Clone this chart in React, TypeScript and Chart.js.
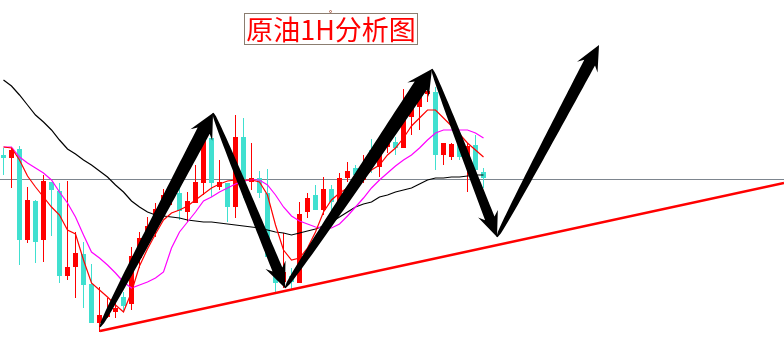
import React, { useEffect, useRef } from "react";
import { Chart, registerables } from "chart.js";

Chart.register(...registerables);

// Hourly crude oil bars (price in USD)
const barOpen = [
  53.82, 53.79, 53.88, 52.97, 53.36, 52.97, 53.55, 53.46, 52.61, 52.70,
  52.83, 52.53, 52.14, 52.20, 52.25, 52.40, 52.33, 52.79, 52.98, 53.11,
  53.27, 53.39, 53.44, 53.25, 53.34, 53.54, 53.99, 53.50, 53.54, 53.30,
  54.00, 53.55, 53.59, 53.44, 52.71, 52.55, 52.61, 52.54, 53.25, 53.42,
  53.27, 53.48, 53.35, 53.59, 53.69, 53.57, 53.87, 53.70, 53.90, 53.95,
  53.89, 54.20, 54.30, 54.43, 54.45, 53.82, 53.80, 53.92, 53.77, 53.92,
  53.65,
];
const barClose = [
  53.79, 53.87, 52.97, 53.37, 52.95, 53.56, 53.47, 52.61, 52.70, 52.84,
  52.52, 52.14, 52.22, 52.25, 52.29, 52.31, 52.81, 52.99, 53.11, 53.28,
  53.42, 53.47, 53.26, 53.36, 53.55, 54.00, 53.54, 53.55, 53.30, 54.00,
  53.55, 53.59, 53.44, 52.80, 52.54, 52.65, 52.55, 53.23, 53.39, 53.27,
  53.48, 53.35, 53.59, 53.66, 53.62, 53.73, 53.77, 53.97, 53.97, 53.89,
  54.20, 54.29, 54.42, 54.46, 53.82, 53.94, 53.93, 53.80, 53.91, 53.67,
  53.59,
];
const barHigh = [
  53.89, 53.89, 53.91, 53.50, 53.37, 53.62, 53.55, 53.54, 53.56, 53.05,
  52.95, 52.73, 52.50, 52.39, 52.38, 52.45, 52.90, 53.05, 53.20, 53.34,
  53.48, 53.54, 53.51, 53.45, 53.72, 54.00, 53.99, 53.77, 53.54, 54.22,
  54.19, 53.94, 53.66, 53.68, 52.80, 53.04, 52.69, 53.35, 53.44, 53.52,
  53.60, 53.52, 53.64, 53.75, 53.72, 53.82, 53.98, 54.00, 54.05, 54.00,
  54.48, 54.37, 54.49, 54.64, 54.50, 53.94, 53.94, 54.02, 53.94, 54.02,
  53.69,
];
const barLow = [
  53.62, 53.49, 52.72, 52.94, 52.74, 52.75, 53.01, 52.54, 52.57, 52.39,
  52.29, 52.14, 52.05, 52.19, 52.19, 52.25, 52.27, 52.69, 52.98, 53.00,
  53.24, 53.32, 53.17, 53.15, 53.34, 53.42, 53.40, 53.47, 53.15, 53.19,
  53.39, 53.47, 53.39, 52.80, 52.45, 52.49, 52.47, 52.54, 53.19, 53.27,
  53.22, 53.22, 53.34, 53.55, 53.59, 53.54, 53.64, 53.60, 53.84, 53.82,
  53.89, 54.02, 54.07, 54.35, 53.67, 53.72, 53.77, 53.77, 53.45, 53.65,
  53.49,
];

// Moving averages, one value per bar
const maFast = [
  53.90, 53.89, 53.77, 53.61, 53.50, 53.40, 53.30, 53.22, 53.07, 53.03,
  52.77, 52.54, 52.47, 52.40, 52.32, 52.25, 52.45, 52.71, 52.88, 53.03,
  53.17, 53.24, 53.27, 53.31, 53.37, 53.43, 53.49, 53.53, 53.56, 53.57,
  53.57, 53.57, 53.55, 53.42, 53.12, 52.87, 52.77, 52.79, 52.89, 53.05,
  53.25, 53.37, 53.44, 53.49, 53.55, 53.59, 53.67, 53.72, 53.82, 53.89,
  53.99, 54.11, 54.19, 54.27, 54.27, 54.19, 54.11, 54.03, 53.94, 53.87,
  53.80,
];
const maMid = [
  53.90, 53.90, 53.80, 53.74, 53.69, 53.64, 53.57, 53.45, 53.34, 53.20,
  53.02, 52.85, 52.79, 52.72, 52.64, 52.55, 52.49, 52.52, 52.55, 52.59,
  52.65, 52.89, 53.05, 53.15, 53.25, 53.36, 53.40, 53.45, 53.49, 53.53,
  53.56, 53.57, 53.57, 53.52, 53.42, 53.30, 53.21, 53.16, 53.13, 53.10,
  53.09, 53.09, 53.13, 53.21, 53.30, 53.39, 53.49, 53.57, 53.64, 53.71,
  53.77, 53.82, 53.89, 53.97, 54.04, 54.07, 54.07, 54.07, 54.07, 54.04,
  53.99,
];
const maSlow = [
  54.57, 54.51, 54.42, 54.32, 54.22, 54.15, 54.07, 53.97, 53.88, 53.83,
  53.77, 53.72, 53.66, 53.60, 53.52, 53.45, 53.36, 53.30, 53.25, 53.22,
  53.21, 53.20, 53.19, 53.17, 53.16, 53.15, 53.15, 53.14, 53.13, 53.12,
  53.11, 53.10, 53.09, 53.07, 53.05, 53.04, 53.02, 53.04, 53.06, 53.08,
  53.11, 53.15, 53.20, 53.25, 53.30, 53.33, 53.35, 53.40, 53.42, 53.45,
  53.47, 53.49, 53.53, 53.57, 53.59, 53.59, 53.60, 53.60, 53.61, 53.62,
  53.62,
];

// Horizontal level and rising support line (bar index, price)
const levelPrice = 53.575;
const supportX = [12.06, 97.56];
const supportY = [52.06, 53.54];

// Path of the forecast arrows: each pair of neighbours is one arrow
const pathX = [12.06, 26.19, 35.19, 53.56, 61.69, 74.44];
const pathY = [52.10, 54.24, 52.49, 54.68, 53.00, 54.92];

const UP = "#ff0000";
const DOWN = "#40e0d0";

const X_MIN = -0.4375;
const X_MAX = 97.5625;

function drawArrow(ctx: CanvasRenderingContext2D, x0: number, y0: number, x1: number, y1: number) {
  const dx = x1 - x0;
  const dy = y1 - y0;
  const len = Math.hypot(dx, dy);
  const ux = dx / len;
  const uy = dy / len;
  const nx = -uy;
  const ny = ux;
  const maxHalf = len * 0.028;
  const headLen = 25;
  const notch = 20;
  const headHalf = maxHalf + 5.5;
  const shaft = len - notch;
  const left: [number, number][] = [];
  const right: [number, number][] = [];
  const steps = 40;
  for (let k = 0; k <= steps; k++) {
    const t = k / steps;
    const s = t * shaft;
    const hw = 0.6 + (maxHalf - 0.6) * Math.pow(t, 0.45);
    left.push([x0 + ux * s + nx * hw, y0 + uy * s + ny * hw]);
    right.push([x0 + ux * s - nx * hw, y0 + uy * s - ny * hw]);
  }
  ctx.beginPath();
  ctx.moveTo(left[0][0], left[0][1]);
  for (const p of left) ctx.lineTo(p[0], p[1]);
  ctx.lineTo(x1 - ux * headLen + nx * headHalf, y1 - uy * headLen + ny * headHalf);
  ctx.lineTo(x1, y1);
  ctx.lineTo(x1 - ux * headLen - nx * headHalf, y1 - uy * headLen - ny * headHalf);
  for (let k = right.length - 1; k >= 0; k--) ctx.lineTo(right[k][0], right[k][1]);
  ctx.closePath();
  ctx.fillStyle = "#000000";
  ctx.fill();
}

const arrowPlugin = {
  id: "pathArrows",
  afterDatasetsDraw(chart: any) {
    const { ctx, scales } = chart;
    ctx.save();
    for (let i = 0; i < pathX.length - 1; i++) {
      drawArrow(
        ctx,
        scales.x.getPixelForValue(pathX[i]),
        scales.y.getPixelForValue(pathY[i]),
        scales.x.getPixelForValue(pathX[i + 1]),
        scales.y.getPixelForValue(pathY[i + 1])
      );
    }
    ctx.restore();
  },
};

export default function App() {
  const canvasRef = useRef<HTMLCanvasElement | null>(null);

  useEffect(() => {
    if (!canvasRef.current) return;
    const idx = barOpen.map((_, i) => i);
    const colors = idx.map((i) => (barClose[i] >= barOpen[i] ? UP : DOWN));
    const maLine = (values: number[], color: string) => ({
      type: "line" as const,
      data: values.map((v, i) => ({ x: i, y: v })),
      borderColor: color,
      borderWidth: 1.2,
      pointRadius: 0,
      tension: 0,
      fill: false,
      order: 1,
    });

    const chart = new Chart(canvasRef.current, {
      type: "bar",
      data: {
        datasets: [
          {
            type: "line",
            data: supportX.map((x, i) => ({ x, y: supportY[i] })),
            borderColor: "#ff0000",
            borderWidth: 2.5,
            pointRadius: 0,
            fill: false,
            order: 0,
          },
          maLine(maFast, "#ff0000"),
          maLine(maMid, "#ff00ff"),
          maLine(maSlow, "#000000"),
          {
            type: "bar",
            data: idx.map((i) => ({ x: i, y: [barOpen[i], barClose[i]] })),
            backgroundColor: colors,
            borderWidth: 0,
            barThickness: 5,
            grouped: false,
            inflateAmount: 0,
            minBarLength: 1,
            order: 2,
          } as any,
          {
            type: "bar",
            data: idx.map((i) => ({ x: i, y: [barLow[i], barHigh[i]] })),
            backgroundColor: colors,
            borderWidth: 0,
            barThickness: 1,
            grouped: false,
            inflateAmount: 0,
            order: 3,
          } as any,
          {
            type: "line",
            data: [
              { x: X_MIN, y: levelPrice },
              { x: X_MAX, y: levelPrice },
            ],
            borderColor: "#7d858e",
            borderWidth: 1,
            pointRadius: 0,
            fill: false,
            order: 4,
          },
        ],
      },
      options: {
        responsive: false,
        animation: false,
        devicePixelRatio: 1,
        events: [],
        layout: { padding: 0 },
        plugins: { legend: { display: false }, tooltip: { enabled: false } },
        scales: {
          x: { type: "linear", min: X_MIN, max: X_MAX, display: false, offset: false },
          y: { type: "linear", min: 52, max: 55.37, display: false },
        },
      },
      plugins: [arrowPlugin],
    });
    return () => chart.destroy();
  }, []);

  return (
    <div
      style={{
        position: "fixed",
        left: 0,
        top: 0,
        width: 784,
        height: 337,
        background: "#ffffff",
        overflow: "hidden",
      }}
    >
      <canvas ref={canvasRef} width={784} height={337} style={{ display: "block" }} />
      <div
        style={{
          position: "absolute",
          left: 244,
          top: 13,
          width: 174,
          height: 32,
          boxSizing: "border-box",
          border: "1px solid #8b7d70",
          color: "#ff0000",
          fontFamily: '"Noto Sans CJK SC", sans-serif',
          fontSize: 27,
          lineHeight: "30px",
          textAlign: "center",
          whiteSpace: "nowrap",
        }}
      >
        原油1H分析图
      </div>
      <div
        style={{
          position: "absolute",
          left: 329,
          top: 10,
          width: 3,
          height: 3,
          boxSizing: "border-box",
          border: "1px solid #b0604a",
          borderRadius: "50%",
        }}
      />
    </div>
  );
}
